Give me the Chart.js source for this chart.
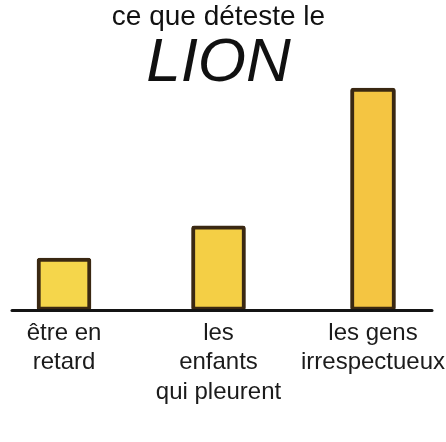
<!DOCTYPE html>
<html>
<head>
<meta charset="utf-8">
<script src="https://cdn.jsdelivr.net/npm/chart.js@4/dist/chart.umd.min.js"></script>
<style>
  html, body { margin: 0; padding: 0; background: #ffffff; }
  #wrap { width: 446px; height: 442px; }
</style>
</head>
<body>
<div id="wrap"><canvas id="c" width="446" height="442"></canvas></div>
<script>
const titleLine = "ce que déteste le";
const titleBig = "LION";
const categories = [["être en", "retard"], ["les", "enfants", "qui pleurent"], ["les gens", "irrespectueux"]];
const valuesShort = [2.35, 3.8, null];
const valuesTall = [null, null, 10];
const yMax = 10;

const baseLine = {
  id: 'baseLine',
  afterDatasetsDraw(chart) {
    const { ctx, chartArea, scales } = chart;
    const y = scales.y.getPixelForValue(0);
    ctx.save();
    ctx.strokeStyle = '#141414';
    ctx.lineWidth = 3;
    ctx.lineCap = 'round';
    ctx.beginPath();
    ctx.moveTo(chartArea.left - 52, y);
    ctx.lineTo(chartArea.right + 59, y);
    ctx.stroke();
    ctx.restore();
  }
};

new Chart(document.getElementById('c'), {
  type: 'bar',
  data: {
    labels: categories,
    datasets: [
      {
        data: valuesShort,
        backgroundColor: ['#F5D64B', '#F4CF45', '#F4C542'],
        borderColor: '#3a2812',
        borderWidth: 4,
        borderRadius: 3,
        borderSkipped: false,
        barThickness: 54,
        grouped: false,
        clip: false
      },
      {
        data: valuesTall,
        backgroundColor: '#F4C542',
        borderColor: '#3a2812',
        borderWidth: 4,
        borderRadius: 3,
        borderSkipped: false,
        barThickness: 45,
        grouped: false,
        clip: false
      }
    ]
  },
  options: {
    responsive: false,
    animation: false,
    layout: { padding: { left: 64, right: 73, top: 0, bottom: 27 } },
    plugins: {
      legend: { display: false },
      tooltip: { enabled: false },
      title: {
        display: true,
        text: titleLine,
        color: '#111111',
        font: { family: 'Liberation Sans, Arial, sans-serif', size: 28, weight: 'normal', lineHeight: 1.2 },
        padding: { top: 0, bottom: 0 }
      },
      subtitle: {
        display: true,
        text: titleBig,
        color: '#111111',
        font: { family: 'Liberation Sans, Arial, sans-serif', size: 62, style: 'italic', weight: 'normal', lineHeight: 0.774 },
        padding: { top: 6.4, bottom: 0 }
      }
    },
    scales: {
      x: {
        offset: false,
        grid: { display: false, drawTicks: false },
        border: { display: false },
        afterFit(scale) {
          scale.paddingLeft = 0;
          scale.paddingRight = 0;
        },
        ticks: {
          color: '#1b1b1b',
          padding: 8,
          maxRotation: 0,
          autoSkip: false,
          font: { family: 'Liberation Sans, Arial, sans-serif', size: 24, lineHeight: 1.23 }
        }
      },
      y: {
        display: false,
        min: 0,
        max: yMax
      }
    }
  },
  plugins: [baseLine]
});
</script>
</body>
</html>
